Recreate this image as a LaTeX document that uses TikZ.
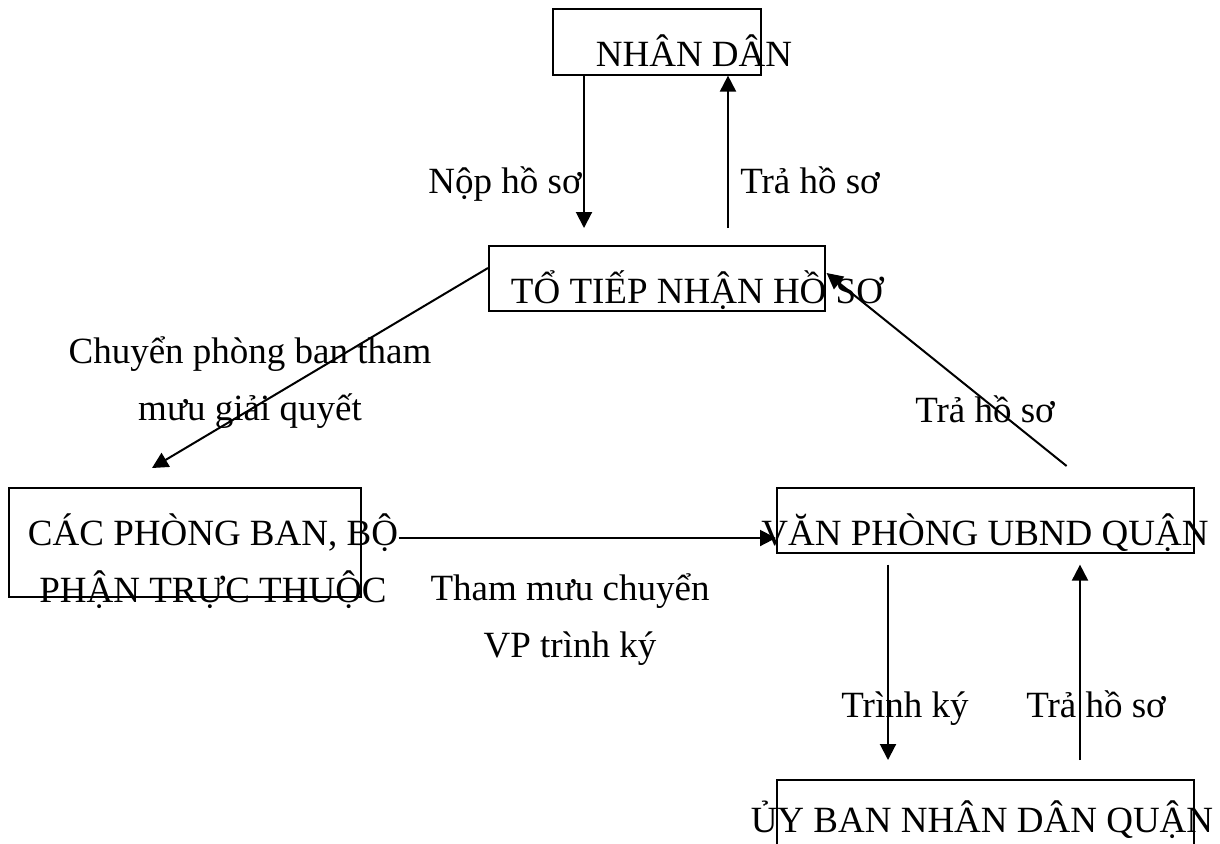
\documentclass[tikz,border=0pt]{standalone}
\usepackage{fontspec}
\setmainfont{Liberation Serif}
\usetikzlibrary{arrows.meta, calc}
\tikzset{
  flowarr/.style={-{Triangle[length=8pt, width=8pt]}, line width=1pt},
  orgbox/.style={draw, line width=0.8pt, inner sep=0pt, anchor=north west},
  boxtext/.style={anchor=base, inner sep=0pt, align=center,
                  font=\fontsize{18.5}{28.5}\selectfont},
  steplabel/.style={anchor=base, inner sep=0pt, align=center,
                    font=\fontsize{18.5}{28.5}\selectfont},
}

\begin{document}
\begin{tikzpicture}[x=0.5pt, y=-0.5pt]
  \useasboundingbox (0,0) rectangle (1220,843);

  % boxes
  \node[orgbox, minimum width=104pt, minimum height=33pt] (nd) at (552,8) {};
  \node[orgbox, minimum width=168pt, minimum height=32.5pt] (tn) at (488,245) {};
  \node[orgbox, minimum width=176pt, minimum height=54.5pt] (pb) at (8,487) {};
  \node[orgbox, minimum width=208.5pt, minimum height=32.5pt] (vp) at (776,487) {};
  \node[orgbox, minimum width=208.5pt, minimum height=45pt] (ub) at (776,779) {};

  % box texts
  \node[boxtext] (ndtext) at (694,66) {NHÂN DÂN};
  \node[boxtext] (tntext) at (697,303) {TỔ TIẾP NHẬN HỒ SƠ};
  \node[boxtext] (pbtext) at (213,602) {CÁC PHÒNG BAN, BỘ\\PHẬN TRỰC THUỘC};
  \node[boxtext] (vptext) at (985,545) {VĂN PHÒNG UBND QUẬN};
  \node[boxtext] (ubtext) at (982,832) {ỦY BAN NHÂN DÂN QUẬN};

  % step labels
  \node[steplabel] (nop) at (505,193) {Nộp hồ sơ};
  \node[steplabel] (tra1) at (810,193) {Trả hồ sơ};
  \node[steplabel] (chuyen) at (250,420) {Chuyển phòng ban tham\\mưu giải quyết};
  \node[steplabel] (tra2) at (985,422) {Trả hồ sơ};
  \node[steplabel] (thammuu) at (570,657) {Tham mưu chuyển\\VP trình ký};
  \node[steplabel] (trinh) at (905,717) {Trình ký};
  \node[steplabel] (tra3) at (1096,717) {Trả hồ sơ};

  % flows
  \draw[flowarr] ($(nd.south west)+(32,0)$) -- ($(tn.north west)+(96,-17)$);
  \draw[flowarr] ($(tn.north west)+(240,-17)$) -- ($(nd.south west)+(176,0)$);
  \draw[flowarr] ($(tn.north west)+(0,23)$) -- ($(pb.north west)+(144,-19)$);
  \draw[flowarr] ($(vp.north east)+(-128,-21)$) -- ($(tn.north east)+(1,28)$);
  \draw[flowarr] ($(pb.north east)+(37,51)$) -- ($(vp.north west)+(0,51)$);
  \draw[flowarr] ($(vp.south west)+(112,11)$) -- ($(ub.north west)+(112,-19)$);
  \draw[flowarr] ($(ub.north west)+(304,-19)$) -- ($(vp.south west)+(304,11)$);
\end{tikzpicture}
\end{document}
